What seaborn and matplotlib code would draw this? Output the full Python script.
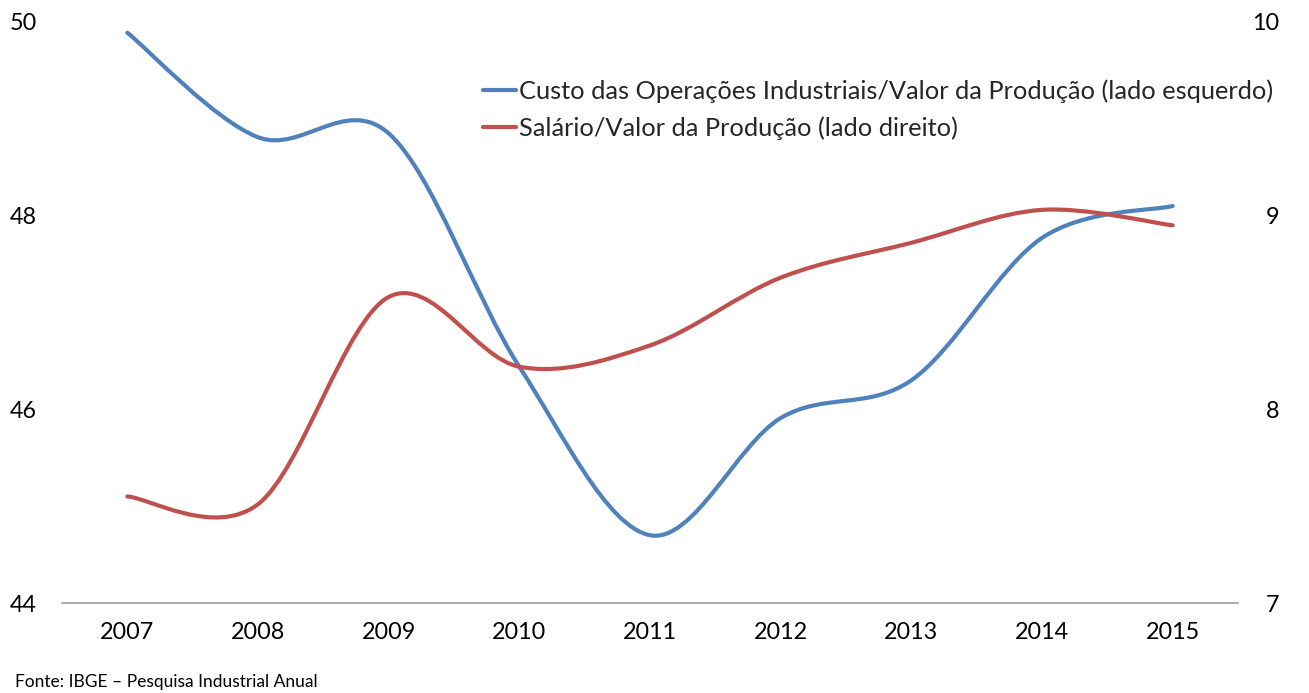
import numpy as np
import matplotlib
matplotlib.use("Agg")
import matplotlib.pyplot as plt
from matplotlib.path import Path
from matplotlib.patches import PathPatch
from matplotlib.lines import Line2D
import seaborn as sns

# ---- data ----
years = [2007, 2008, 2009, 2010, 2011, 2012, 2013, 2014, 2015]
custo = [49.89, 48.81, 48.85, 46.44, 44.70, 45.91, 46.30, 47.77, 48.10]   # left axis
salario = [7.55, 7.51, 8.58, 8.22, 8.33, 8.68, 8.86, 9.03, 8.95]          # right axis
left_ticks = [44, 46, 48, 50]
right_ticks = [7, 8, 9, 10]
label_custo = "Custo das Operações Industriais/Valor da Produção (lado esquerdo)"
label_salario = "Salário/Valor da Produção (lado direito)"
source = "Fonte: IBGE – Pesquisa Industrial Anual"

BLUE = "#4F81BD"
RED = "#C0504D"

sns.set_theme(style="white")
plt.rcParams["font.family"] = ["Lato", "DejaVu Sans"]


def smooth_path(x, y):
    """Excel-like smoothed line: cubic Bezier segments through the data points."""
    pts = np.column_stack([x, y]).astype(float)
    n = len(pts)
    verts = [pts[0]]
    codes = [Path.MOVETO]
    for i in range(n - 1):
        p0 = pts[max(i - 1, 0)]
        p1 = pts[i]
        p2 = pts[i + 1]
        p3 = pts[min(i + 2, n - 1)]
        c1 = p1 + (p2 - p0) / 6.0
        c2 = p2 - (p3 - p1) / 6.0
        verts += [c1, c2, p2]
        codes += [Path.CURVE4] * 3
    return Path(verts, codes)


fig = plt.figure(figsize=(13.09, 6.93), dpi=100)
ax = fig.add_axes([62 / 1309, 1 - 603 / 693, (1238 - 62) / 1309, (603 - 22) / 693])
ax2 = ax.twinx()

ax.add_patch(PathPatch(smooth_path(years, custo), fill=False, edgecolor=BLUE,
                       lw=3.0, capstyle="round", joinstyle="round"))
ax2.add_patch(PathPatch(smooth_path(years, salario), fill=False, edgecolor=RED,
                        lw=3.0, capstyle="round", joinstyle="round"))

ax.set_xlim(years[0] - 0.5, years[-1] + 0.5)
ax.set_ylim(left_ticks[0], left_ticks[-1])
ax2.set_ylim(right_ticks[0], right_ticks[-1])

ax.set_xticks(years)
ax.set_xticklabels([str(y) for y in years], fontsize=16.8, color="#000000")
ax.set_yticks(left_ticks)
ax.set_yticklabels([str(t) for t in left_ticks], fontsize=16.8, color="#000000")
ax2.set_yticks(right_ticks)
ax2.set_yticklabels([str(t) for t in right_ticks], fontsize=16.8, color="#000000",
                    ha="right")

ax.tick_params(axis="x", length=0, pad=14)
ax.tick_params(axis="y", length=0, pad=18)
ax2.tick_params(axis="y", length=0, pad=30)

for a in (ax, ax2):
    for s in ("top", "left", "right", "bottom"):
        a.spines[s].set_visible(False)
    a.grid(False)
ax.spines["bottom"].set_visible(True)
ax.spines["bottom"].set_color("#A6A6A6")
ax.spines["bottom"].set_linewidth(1.3)

handles = [Line2D([], [], color=BLUE, lw=3.0), Line2D([], [], color=RED, lw=3.0)]
fig.legend(handles, [label_custo, label_salario], loc="upper left",
           bbox_to_anchor=(483 / 1309, 1 - 79 / 693), frameon=False,
           fontsize=18.3, handlelength=1.3, handletextpad=0.12,
           borderpad=0, borderaxespad=0, labelspacing=0.55)

fig.text(15 / 1309, 1 - 682 / 693, source, fontsize=12.5, ha="left", va="center",
         color="#000000")

fig.savefig("out.png", dpi=100)
